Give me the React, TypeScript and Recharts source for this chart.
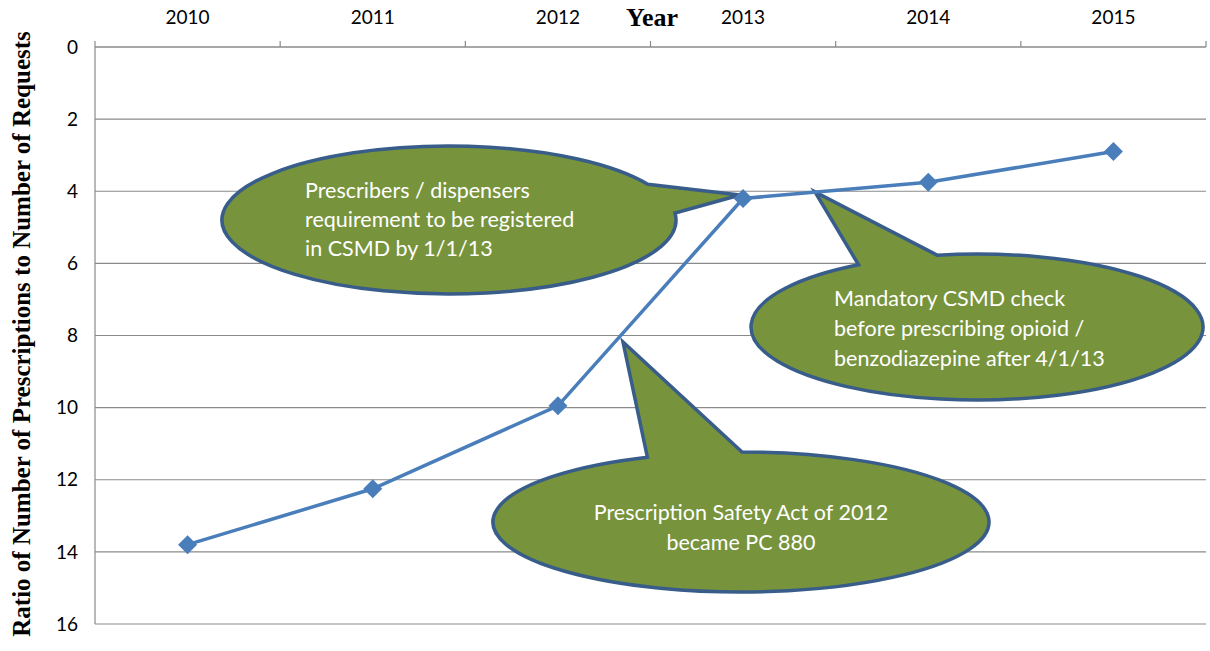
import { LineChart, Line, XAxis, YAxis, CartesianGrid } from 'recharts';

// ratio of prescriptions to requests
const years = [2010, 2011, 2012, 2013, 2014, 2015];
const ratios = [13.8, 12.25, 9.95, 4.2, 3.75, 2.9];
const yTicks = [0, 2, 4, 6, 8, 10, 12, 14, 16];
const yearEdges = [2009.5, 2010.5, 2011.5, 2012.5, 2013.5, 2014.5, 2015.5];

const calloutRegistered = ['Prescribers / dispensers', 'requirement to be registered', 'in CSMD by 1/1/13'];
const calloutMandatory = ['Mandatory CSMD check', 'before prescribing opioid /', 'benzodiazepine after 4/1/13'];
const calloutAct = ['Prescription Safety Act of 2012', 'became PC 880'];

const data = years.map((year, i) => ({ year, ratio: ratios[i] }));

const GRID = '#8a8a8a';
const LINE = '#4A7EBB';
const FILL = '#77933C';
const EDGE = '#385D8A';
const SANS = 'Lato, "Open Sans", sans-serif';
const SERIF = '"Liberation Serif", "Times New Roman", serif';

type Pt = [number, number];

// wedge-ellipse callout, like the Office shape
function calloutPath(cx: number, cy: number, rx: number, ry: number, b1: Pt, b2: Pt, tip: Pt) {
  const ang = (p: Pt) => Math.atan2((p[1] - cy) / ry, (p[0] - cx) / rx);
  const a1 = ang(b1);
  const a2 = ang(b2);
  let d = a2 - a1;
  while (d > Math.PI) d -= 2 * Math.PI;
  while (d <= -Math.PI) d += 2 * Math.PI;
  const p1 = [cx + rx * Math.cos(a1), cy + ry * Math.sin(a1)];
  const p2 = [cx + rx * Math.cos(a2), cy + ry * Math.sin(a2)];
  const sweep = d > 0 ? 1 : 0;
  return `M${p2[0]},${p2[1]} A${rx},${ry} 0 1 ${sweep} ${p1[0]},${p1[1]} L${tip[0]},${tip[1]} Z`;
}

const Callouts = () => (
  <g>
    <path d={calloutPath(449, 220, 227, 74, [649, 184], [676, 213], [740, 195])} fill={FILL} stroke={EDGE} strokeWidth={3.5} />
    <path d={calloutPath(977, 327, 226, 73, [857, 264], [937, 255], [815, 192])} fill={FILL} stroke={EDGE} strokeWidth={3.5} />
    <path d={calloutPath(741, 522, 248, 70, [650, 459], [742, 452], [623, 342])} fill={FILL} stroke={EDGE} strokeWidth={3.5} />

    <text fill="#fff" fontFamily={SANS} fontSize={21.5}>
      {calloutRegistered.map((t, i) => (
        <tspan key={t} x={305} y={198 + i * 29}>{t}</tspan>
      ))}
    </text>
    <text fill="#fff" fontFamily={SANS} fontSize={21.5}>
      {calloutMandatory.map((t, i) => (
        <tspan key={t} x={834} y={306 + i * 30}>{t}</tspan>
      ))}
    </text>
    <text fill="#fff" fontFamily={SANS} fontSize={21.5} textAnchor="middle">
      {calloutAct.map((t, i) => (
        <tspan key={t} x={741} y={520 + i * 30}>{t}</tspan>
      ))}
    </text>
  </g>
);

const Titles = () => (
  <g>
    <text x={652} y={26} textAnchor="middle" fontFamily={SERIF} fontWeight="bold" fontSize={26} fill="#000">
      Year
    </text>
    <text
      x={30}
      y={334}
      transform="rotate(-90 30 334)"
      textAnchor="middle"
      fontFamily={SERIF}
      fontWeight="bold"
      fontSize={25}
      fill="#000"
    >
      Ratio of Number of Prescriptions to Number of Requests
    </text>
  </g>
);

// year labels sit between the boundary ticks
const YearTick = (props: any) => {
  const { x, y, payload, width } = props;
  const half = (width || 1111) / (years.length * 2);
  if (payload.value > years[years.length - 1]) return <g />;
  return (
    <text x={x + half} y={y - 15} textAnchor="middle" fontFamily={SANS} fontSize={19} fill="#000">
      {payload.value + 0.5}
    </text>
  );
};

const Diamond = (props: any) => {
  const { cx, cy } = props;
  if (cx == null || cy == null) return null;
  const r = 9.5;
  return <polygon points={`${cx},${cy - r} ${cx + r},${cy} ${cx},${cy + r} ${cx - r},${cy}`} fill={LINE} />;
};

export default function App() {
  return (
    <div style={{ position: 'absolute', left: 0, top: 0, width: 1210, height: 651, background: '#fff' }}>
      <LineChart width={1210} height={651} data={data} margin={{ top: 10, right: 4, bottom: 27, left: 0 }}>
        <CartesianGrid vertical={false} stroke={GRID} strokeWidth={1.2} />
        <XAxis
          dataKey="year"
          type="number"
          orientation="top"
          height={37}
          domain={[2009.5, 2015.5]}
          ticks={yearEdges}
          interval={0}
          allowDecimals
          stroke={GRID}
          strokeWidth={1.2}
          tickSize={6}
          tick={<YearTick />}
        />
        <YAxis
          type="number"
          reversed
          domain={[0, 16]}
          ticks={yTicks}
          interval={0}
          width={95}
          stroke={GRID}
          strokeWidth={1.2}
          tickLine={false}
          tickMargin={11}
          tick={{ fill: '#000', fontSize: 19, fontFamily: SANS }}
        />
        <Callouts />
        <Line
          dataKey="ratio"
          stroke={LINE}
          strokeWidth={3.5}
          dot={<Diamond />}
          activeDot={false}
          isAnimationActive={false}
        />
        <Titles />
      </LineChart>
    </div>
  );
}
